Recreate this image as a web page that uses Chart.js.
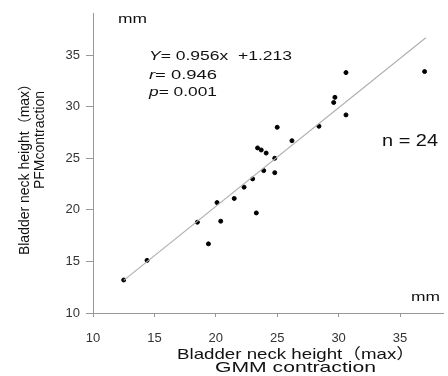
<!DOCTYPE html>
<html>
<head>
<meta charset="utf-8">
<script src="https://cdn.jsdelivr.net/npm/chart.js@4/dist/chart.umd.min.js"></script>
<style>
  body { margin: 0; background: #fff; }
  canvas { display: block; }
</style>
</head>
<body>
<canvas id="myChart" width="448" height="376"></canvas>
<script>
// GMM contraction (x) vs PFM contraction (y), mm
const gmmValues = [12.5, 14.4, 18.5, 19.4, 20.1, 20.4, 21.5, 22.3, 23.0, 23.3, 23.4, 23.7,
  23.9, 24.1, 24.8, 24.8, 25.0, 26.2, 28.4, 30.6, 29.6, 29.7, 30.6, 37.0];
const pfmValues = [13.2, 15.1, 18.8, 16.7, 20.7, 18.9, 21.1, 22.2, 23.0, 19.7, 26.0, 25.8,
  23.8, 25.5, 25.0, 23.6, 28.0, 26.7, 28.1, 29.2, 30.4, 30.9, 33.3, 33.4];
const xTicks = [10, 15, 20, 25, 30, 35];
const yTicks = [10, 15, 20, 25, 30, 35];
const slope = 0.956;
const intercept = 1.213;
const fitRange = [12.5, 37.1];

const font = "'Liberation Sans', 'Noto Sans CJK JP', sans-serif";

const points = gmmValues.map((x, i) => ({ x: x, y: pfmValues[i] }));
const fitLine = fitRange.map(x => ({ x: x, y: slope * x + intercept }));

// draw text left-aligned at x, squeezed/stretched to a target width
function fitText(ctx, parts, x, y, width) {
  let total = 0;
  parts.forEach(p => { ctx.font = p[1]; total += ctx.measureText(p[0]).width; });
  const k = width / total;
  ctx.save();
  ctx.translate(x, y);
  ctx.scale(k, 1);
  let cx = 0;
  parts.forEach(p => {
    ctx.font = p[1];
    ctx.fillText(p[0], cx, 0);
    cx += ctx.measureText(p[0]).width;
  });
  ctx.restore();
}

const textPlugin = {
  id: "texts",
  afterDraw(chart) {
    const ctx = chart.ctx;
    ctx.save();
    ctx.fillStyle = "#111";
    ctx.textBaseline = "middle";
    ctx.textAlign = "left";
    const f13 = "13px " + font;
    const i13 = "italic 13px " + font;

    // units
    fitText(ctx, [["mm", f13]], 118, 19, 29);
    fitText(ctx, [["mm", f13]], 411, 297, 29);

    // regression stats
    fitText(ctx, [["Y", i13], ["= 0.956x  +1.213", f13]], 149, 56, 143);
    fitText(ctx, [["r", i13], ["= 0.946", f13]], 149, 75, 68);
    fitText(ctx, [["p", i13], ["= 0.001", f13]], 149, 92, 68);

    fitText(ctx, [["n = 24", "16px " + font]], 382, 142, 56);

    // x axis title
    const f15 = "15px " + font;
    fitText(ctx, [["Bladder neck height（max）", f15]], 177, 355, 238);
    fitText(ctx, [["GMM contraction", f15]], 215, 368, 161);

    // y axis title
    ctx.textAlign = "center";
    ctx.font = "14px " + font;
    ctx.translate(25, 166);
    ctx.rotate(-Math.PI / 2);
    ctx.fillText("Bladder neck height（max）", 0, 0);
    ctx.fillText("PFMcontraction", 26, 15);
    ctx.restore();
  }
};

const ctx = document.getElementById("myChart").getContext("2d");
new Chart(ctx, {
  type: "scatter",
  data: {
    datasets: [
      {
        label: "fit",
        type: "line",
        data: fitLine,
        borderColor: "#b0b0b0",
        borderWidth: 1.2,
        pointRadius: 0,
        fill: false,
      },
      {
        label: "cases",
        data: points,
        backgroundColor: "#000",
        borderColor: "#000",
        pointRadius: 2,
        clip: false,
      },
    ],
  },
  options: {
    responsive: false,
    animation: false,
    layout: { padding: { top: 10, right: 0, left: 0, bottom: 0 } },
    plugins: { legend: { display: false }, tooltip: { enabled: false } },
    scales: {
      x: {
        type: "linear",
        min: 10,
        max: 38.5,
        afterBuildTicks: s => { s.ticks = xTicks.map(v => ({ value: v })); },
        afterFit: s => { s.height = 63; },
        ticks: { color: "#333", padding: 14, maxRotation: 0, font: { family: font, size: 13 } },
        grid: { drawOnChartArea: false, tickLength: 4, color: "#999" },
        border: { color: "#999" },
      },
      y: {
        type: "linear",
        min: 10,
        max: 39,
        afterBuildTicks: s => { s.ticks = yTicks.map(v => ({ value: v })); },
        afterFit: s => { s.width = 93; },
        ticks: { color: "#333", padding: 6, font: { family: font, size: 13 } },
        grid: { drawOnChartArea: false, tickLength: 7, color: "#999" },
        border: { color: "#999" },
      },
    },
  },
  plugins: [textPlugin],
});
</script>
</body>
</html>
